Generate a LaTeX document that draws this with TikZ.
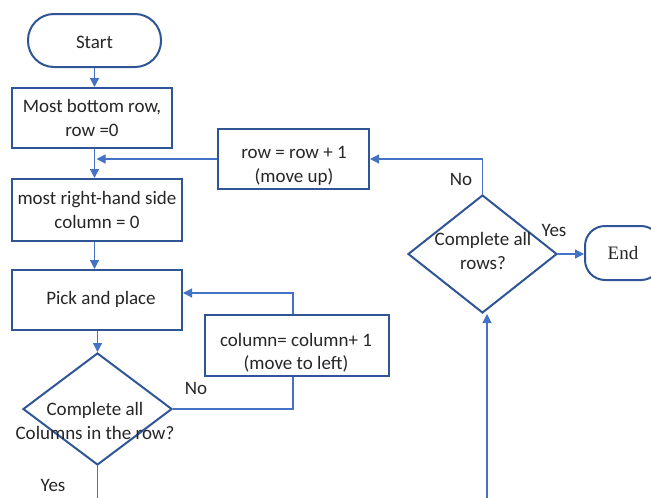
\documentclass[tikz,border=0pt]{standalone}
\usepackage{fontspec}
\setmainfont{Carlito}
\newfontfamily\serifend{Liberation Serif}
\usetikzlibrary{shapes.geometric,arrows.meta,calc}
\definecolor{boxblue}{HTML}{2F5597}
\definecolor{lineblue}{HTML}{4472C4}
\definecolor{txt}{HTML}{262626}
\tikzset{
  base/.style={font=\fontsize{19}{23.5}\selectfont, text=txt, align=center, inner sep=0pt},
  proc/.style={base, draw=boxblue, line width=2pt},
  decision/.style={diamond, draw=boxblue, line width=2pt, inner sep=0pt,
    minimum width=149pt, minimum height=112pt},
  conn/.style={draw=lineblue, line width=1.2pt},
  arr/.style={conn, -{Triangle[length=9pt,width=9pt]}},
  lbl/.style={base},
}
\begin{document}
\begin{tikzpicture}[x=1pt,y=-1pt]
\useasboundingbox (0,0) rectangle (651,498);
\clip (0,0) rectangle (651,498);

% terminals and process boxes
\node[proc, rounded corners=26pt, minimum width=133pt, minimum height=53pt] (start) at (94.5,40.5) {};
\node[base] (starttext) at (94.5,42) {Start};
\node[proc, minimum width=160pt, minimum height=60pt] (bottomrow) at (92,118) {Most bottom row,\\row =0};
\node[proc, minimum width=170pt, minimum height=62pt] (rightcol) at (97,210) {most right-hand side\\column = 0};
\node[proc, minimum width=170pt, minimum height=60pt] (pick) at (97,300) {};
\node[base] (picktext) at (101,299) {Pick and place};
\node[proc, minimum width=184pt, minimum height=61pt] (colinc) at (297,345.5) {};
\node[base] (colinctext) at (296,352.5) {column= column+ 1\\(move to left)};
\node[proc, minimum width=151pt, minimum height=60pt] (rowinc) at (293.5,159) {};
\node[base] (rowinctext) at (294,166) {row = row + 1\\(move up)};
\node[proc, rounded corners=20pt, minimum width=76pt, minimum height=54pt,
      font=\serifend\fontsize{19}{23.5}\selectfont] (end) at (623,253) {End};

% decisions
\node[decision] (colq) at (97.5,409) {};
\node[base] (colqtext) at (95,421) {Complete all\\Columns in the row?};
\node[decision, minimum height=118pt] (rowq) at (482.5,254) {};
\node[base] (rowqtext) at (483,251) {Complete all\\rows?};

% main column
\draw[arr] (start.south) -- (start.south |- bottomrow.north);
\draw[arr] (start.south |- bottomrow.south) -- (start.south |- rightcol.north);
\coordinate (merge) at ([xshift=2pt]start.south |- rowinc.west);
\draw[arr] (rowinc.west) -- (merge);
\draw[arr] (start.south |- rightcol.south) -- (start.south |- pick.north);
\draw[arr] (colq.north |- pick.south) -- (colq.north);

% inner loop over columns
\draw[conn] (colq.east) -| ([xshift=-4pt]colinc.south);
\draw[arr] ([xshift=-4pt]colinc.north) |- ([yshift=7pt]pick.east);
\coordinate (colout) at (colq.south |- 0,498);
\draw[conn] (colq.south) -- (colout);

% outer loop over rows
\draw[arr] (rowq.north) |- (rowinc.east);
\draw[arr] (rowq.east) -- (rowq.east -| end.west);
\coordinate (rowin) at (487,498);
\draw[arr] (rowin) -- (rowin |- rowq.south);

% branch labels
\node[lbl] (no1) at (196,388) {No};
\node[lbl] (yes1) at (53,485) {Yes};
\node[lbl] (no2) at (461,179) {No};
\node[lbl] (yes2) at (554,230) {Yes};
\end{tikzpicture}
\end{document}
